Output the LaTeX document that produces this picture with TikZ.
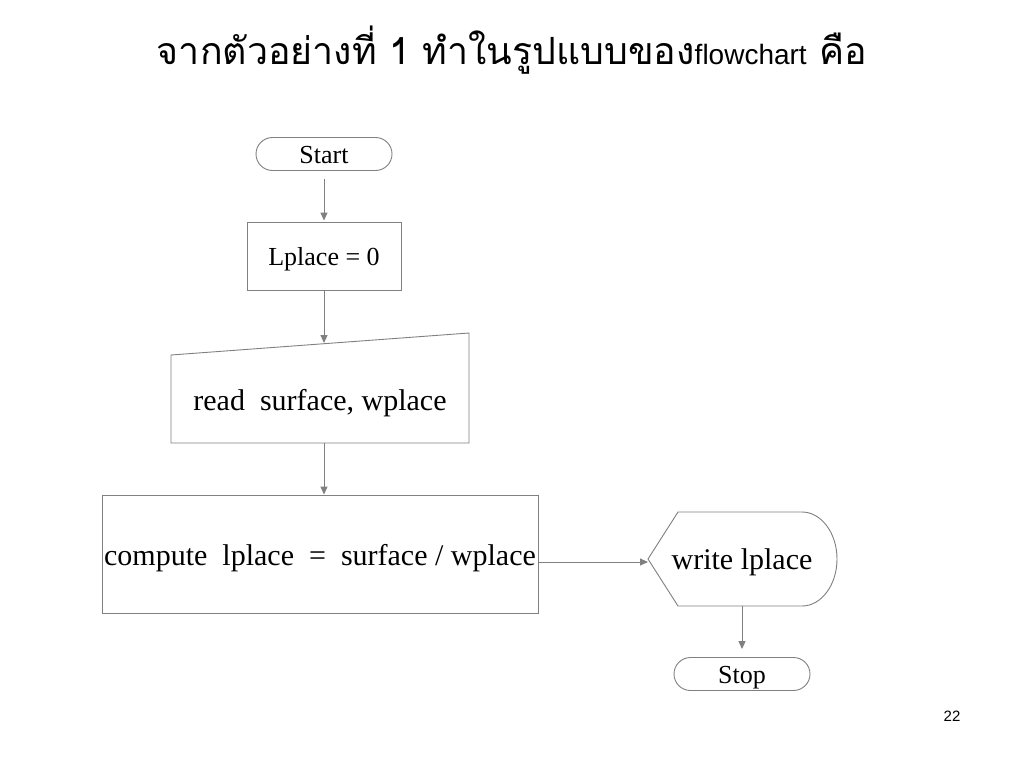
\documentclass[tikz,border=0pt]{standalone}
\usepackage{fontspec}
\setmainfont{Liberation Serif}
\newfontfamily\thaifont[Script=Thai]{Loma}
\newfontfamily\arialfont{Liberation Sans}
\usetikzlibrary{arrows.meta}
\definecolor{linegray}{RGB}{128,128,128}
\tikzset{
  terminal/.style={draw=linegray, line width=0.9pt, rounded corners=16.5pt, minimum width=136pt, minimum height=33pt, inner sep=0pt, font=\fontsize{26}{28}\selectfont},
  procbox/.style={draw=linegray, line width=0.9pt, inner sep=0pt, font=\fontsize{26}{28}\selectfont},
  txt/.style={inner sep=0pt},
  flow/.style={draw=linegray, line width=1pt, -{Triangle[length=8pt,width=7pt]}, color=linegray},
  outline/.style={draw=linegray, line width=0.9pt}
}
\begin{document}
\begin{tikzpicture}[x=1pt,y=-1pt]
\useasboundingbox[fill=white] (0,0) rectangle (1024,768);
% title
\node[txt] (title) at (512,50) {\thaifont\fontsize{37.5}{40}\selectfont จากตัวอย่างที่ 1 ทำในรูปแบบของ{\arialfont\fontsize{28}{30}\selectfont flowchart} คือ};
% start
\node[terminal] (start) at (324,154) {\raisebox{-1pt}[\height][\depth]{Start}};
% Lplace
\node[procbox, minimum width=154pt, minimum height=68pt] (init) at (324,256) {\raisebox{-3pt}[\height][\depth]{Lplace = 0}};
% manual input
\coordinate (rtl) at (171,355);
\coordinate (rtr) at (469,333);
\coordinate (rbr) at (469,443);
\coordinate (rbl) at (171,443);
\draw[outline] (rtl) -- (rtr) -- (rbr) -- (rbl) -- cycle;
\node[txt, font=\fontsize{30}{32}\selectfont] (read) at (320,403) {read\ \ surface, wplace};
\coordinate (readtop) at (324,343);
\coordinate (readbot) at (324,443);
% compute
\node[procbox, minimum width=436pt, minimum height=118pt] (comp) at (320,554) {};
\node[txt, font=\fontsize{30}{32}\selectfont] (comptext) at (320,558) {compute\ \ lplace\ \ =\ \ surface / wplace};
\coordinate (compout) at (538,562);
% display
\coordinate (dleft) at (648,559);
\draw[outline] (dleft) -- (678,512) -- (802,512) arc[start angle=-90, end angle=90, x radius=35, y radius=47] -- (678,606) -- cycle;
\node[txt, font=\fontsize{30}{32}\selectfont] (write) at (742,562) {write lplace};
\coordinate (dbot) at (742,606);
% stop
\node[terminal] (stop) at (742,674) {\raisebox{-4pt}[\height][\depth]{Stop}};
% connectors
\draw[flow, shorten <=8pt, shorten >=1pt] (start.south) -- (init.north);
\draw[flow] (init.south) -- (readtop);
\draw[flow] (readbot) -- (readbot |- comp.north);
\draw[flow] (compout) -- (dleft |- compout);
\draw[flow, shorten >=8pt] (dbot) -- (stop.north);
% page number
\node[txt, font=\arialfont\fontsize{15}{16}\selectfont] (page) at (952,716) {22};
\end{tikzpicture}
\end{document}
